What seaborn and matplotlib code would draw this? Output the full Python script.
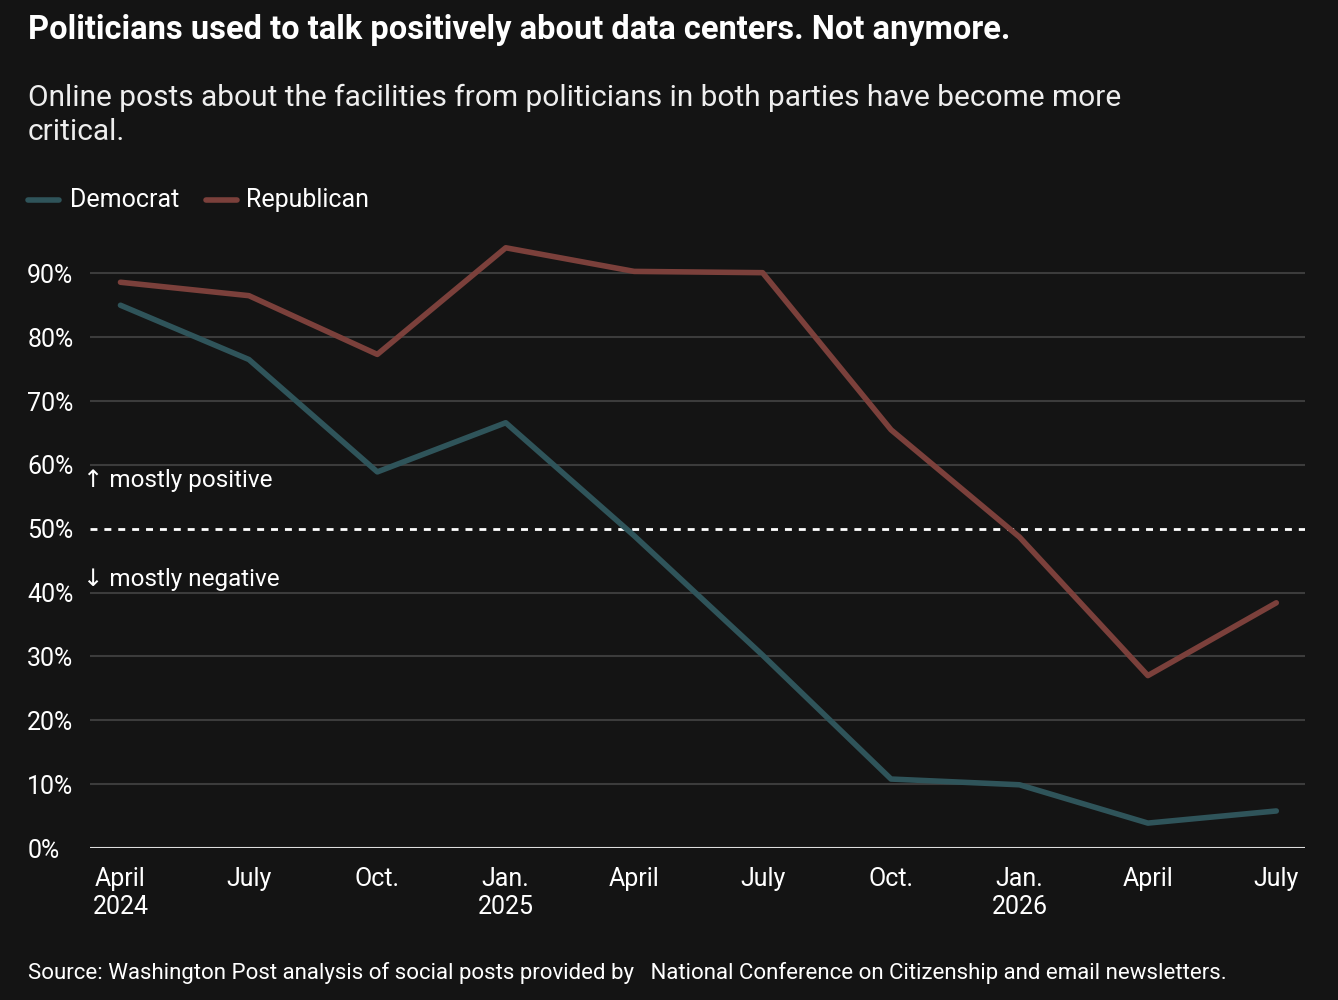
import seaborn as sns
import matplotlib.pyplot as plt
import pandas as pd

# Data
quarters = ["April\n2024", "July", "Oct.", "Jan.\n2025", "April", "July",
            "Oct.", "Jan.\n2026", "April", "July"]
democrat = [85.0, 76.5, 58.9, 66.6, 48.9, 30.2, 10.8, 9.9, 3.9, 5.8]
republican = [88.6, 86.5, 77.3, 94.0, 90.3, 90.1, 65.5, 48.7, 27.0, 38.4]
y_ticks = [0, 10, 20, 30, 40, 50, 60, 70, 80, 90]

bg = "#141414"
colors = {"Democrat": "#2f545a", "Republican": "#7b403b"}

df = pd.DataFrame({"idx": list(range(len(quarters))) * 2,
                   "share": democrat + republican,
                   "party": ["Democrat"] * len(quarters) + ["Republican"] * len(quarters)})

sns.set_theme(style="dark")
plt.rcParams["font.family"] = ["Roboto", "DejaVu Sans"]

fig = plt.figure(figsize=(13.38, 10), dpi=100, facecolor=bg)
ax = fig.add_axes([0.067, 0.152, 0.908, 0.613])
ax.set_facecolor(bg)

for y in y_ticks:
    if y != 50 and y != 0:
        ax.axhline(y, color="#3c3c3c", lw=1.5, zorder=0)
ax.axhline(50, color="white", lw=2, ls=(0, (2.5, 2.5)), zorder=1)
ax.axhline(0, color="#dddddd", lw=1.5, zorder=1)

sns.lineplot(data=df, x="idx", y="share", hue="party", palette=colors,
             lw=4, ax=ax, legend=False, zorder=3)

ax.set_xlim(-0.24, 9.22)
ax.set_ylim(0, 96)
ax.set_xticks(range(len(quarters)))
ax.set_xticklabels(quarters)
ax.set_yticks(y_ticks)
ax.set_yticklabels([f"{y}%" for y in y_ticks])
ax.tick_params(colors="white", labelsize=18, length=0)
ax.tick_params(axis="x", pad=14)
ax.tick_params(axis="y", pad=45)
for lab in ax.get_yticklabels():
    lab.set_horizontalalignment("left")
ax.set_xlabel("")
ax.set_ylabel("")
for s in ax.spines.values():
    s.set_visible(False)

ax.text(-0.29, 57.5, "\u2191 mostly positive", color="white", fontsize=17.5, va="center")
ax.text(-0.29, 42.0, "\u2193 mostly negative", color="white", fontsize=17.5, va="center")

fig.text(0.021, 0.97, "Politicians used to talk positively about data centers. Not anymore.",
         color="white", fontsize=23.5, fontweight="bold", va="center")
fig.text(0.021, 0.885, "Online posts about the facilities from politicians in both parties have become more\ncritical.",
         color="#eeeeee", fontsize=21.5, va="center", linespacing=1.3)

# legend
fig.lines.append(plt.Line2D([0.021, 0.044], [0.8, 0.8], color=colors["Democrat"], lw=4, transform=fig.transFigure))
fig.text(0.052, 0.8, "Democrat", color="white", fontsize=18, va="center")
fig.lines.append(plt.Line2D([0.154, 0.177], [0.8, 0.8], color=colors["Republican"], lw=4, transform=fig.transFigure))
fig.text(0.184, 0.8, "Republican", color="white", fontsize=18, va="center")

fig.text(0.021, 0.027, "Source: Washington Post analysis of social posts provided by   National Conference on Citizenship and email newsletters.",
         color="white", fontsize=16, va="center")

fig.savefig("out.png", dpi=100, facecolor=bg)
